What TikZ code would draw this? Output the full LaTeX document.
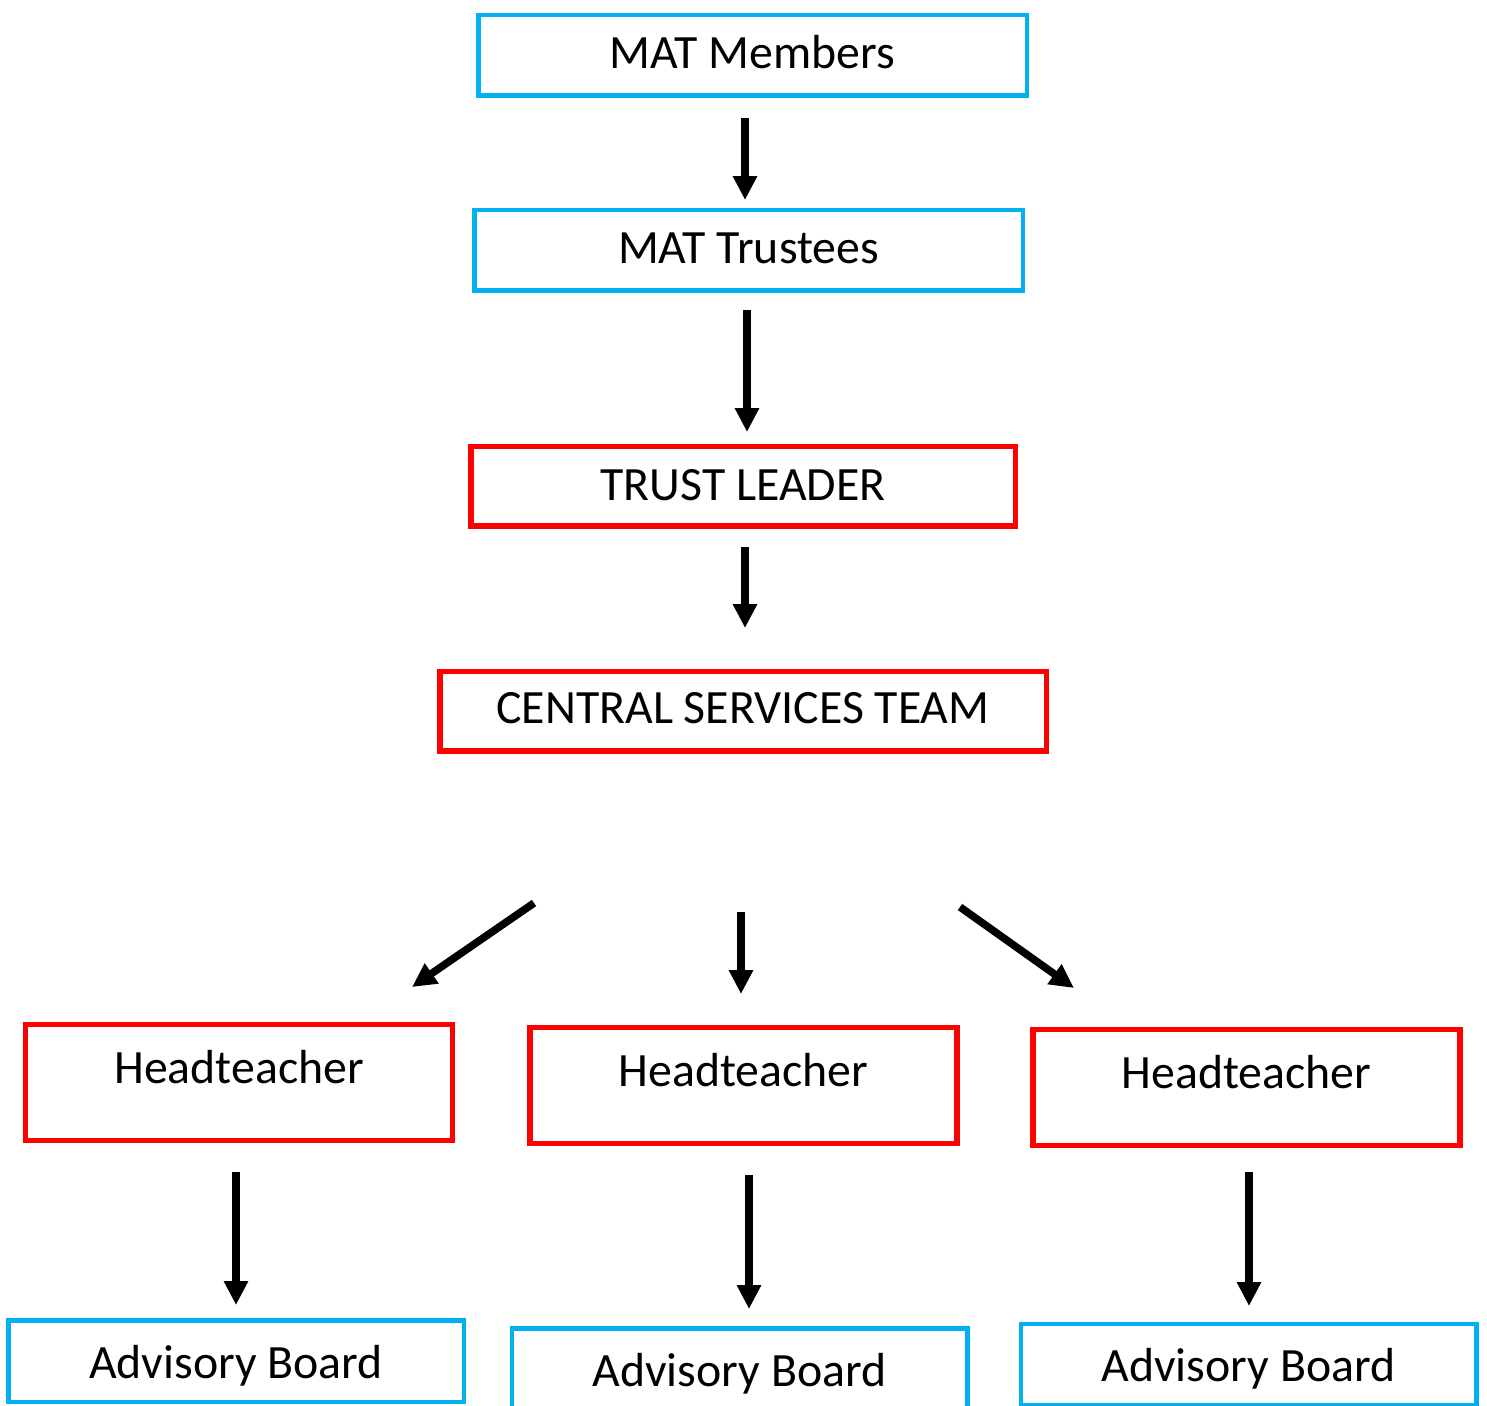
\documentclass[tikz,border=0pt]{standalone}
\usepackage{fontspec}
\setmainfont{Carlito}
\usepackage{tikz}
\usetikzlibrary{arrows.meta}
\definecolor{matblue}{HTML}{00B0F0}
\definecolor{matred}{HTML}{FF0000}
\tikzset{
  box/.style={draw, inner sep=0pt, anchor=base, text=black,
    font=\fontsize{23.9pt}{28pt}\selectfont},
  bluebox/.style={box, draw=matblue, line width=2.25pt},
  redbox/.style={box, draw=matred, line width=2.75pt},
  headbox/.style={redbox, minimum width=213.5pt, text height=29.25pt, text depth=28.625pt},
  advbox/.style={bluebox, minimum width=227.75pt, text height=28.875pt, text depth=11.875pt},
  arr/.style={line width=3.8pt, -{Triangle[length=12pt,width=11.5pt]}}
}
\begin{document}
\begin{tikzpicture}[x=0.5pt,y=-0.5pt]
\useasboundingbox (0,0) rectangle (1487,1405);
% trust level
\node[bluebox, minimum width=274.25pt, text height=26.875pt, text depth=13.375pt] (mem) at (752.5,68.5) {MAT Members};
\node[bluebox, minimum width=274.25pt, text height=26.875pt, text depth=13.375pt] (trus) at (748.5,263.5) {MAT Trustees};
\node[redbox, minimum width=272.25pt, text height=27.125pt, text depth=12.625pt] (lead) at (743,500.5) {TRUST LEADER};
\node[redbox, minimum width=303.25pt, text height=26.125pt, text depth=13.625pt] (cst) at (743,723.5) {CENTRAL SERVICES TEAM};
% schools
\node[headbox] (head1) at (239,1083) {Headteacher};
\node[headbox] (head2) at (743.5,1086) {Headteacher};
\node[headbox] (head3) at (1246.5,1088) {Headteacher};
\node[advbox] (adv1) at (236,1378) {Advisory Board};
\node[advbox] (adv2) at (739.5,1386) {Advisory Board};
\node[advbox] (adv3) at (1248.5,1381.5) {Advisory Board};
% arrow ends
\coordinate (mem-out) at (745,118);   \coordinate (trus-in) at (745,200);
\coordinate (trus-out) at (747,310);  \coordinate (lead-in) at (747,432);
\coordinate (lead-out) at (745,547);  \coordinate (cst-in) at (745,628);
\coordinate (cst-l) at (534,903);     \coordinate (head1-in) at (412,987);
\coordinate (cst-m) at (741,912);     \coordinate (head2-in) at (741,994);
\coordinate (cst-r) at (960,907);     \coordinate (head3-in) at (1074,988);
\coordinate (head1-out) at (236,1172); \coordinate (adv1-in) at (236,1305);
\coordinate (head2-out) at (749,1175); \coordinate (adv2-in) at (749,1309);
\coordinate (head3-out) at (1249,1172); \coordinate (adv3-in) at (1249,1306);
\draw[arr] (mem-out) -- (trus-in);
\draw[arr] (trus-out) -- (lead-in);
\draw[arr] (lead-out) -- (cst-in);
\draw[arr] (cst-l) -- (head1-in);
\draw[arr] (cst-m) -- (head2-in);
\draw[arr] (cst-r) -- (head3-in);
\draw[arr] (head1-out) -- (adv1-in);
\draw[arr] (head2-out) -- (adv2-in);
\draw[arr] (head3-out) -- (adv3-in);
\end{tikzpicture}
\end{document}
